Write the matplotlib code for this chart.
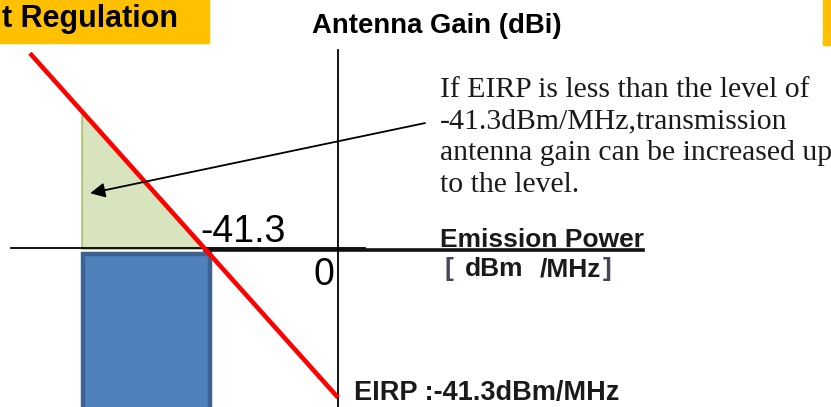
import numpy as np
import matplotlib.pyplot as plt
from matplotlib.patches import Polygon, Rectangle

# emission power in dBm/MHz (x) against antenna gain in dBi (y)
eirp_limit = -41.3
line_power = [-95.7, 0.0]          # span of the EIRP limit line
green_power = [-79.5, eirp_limit]  # zone where the gain may be raised
blue_power = [-79.3, -39.9]        # emission block under the power axis
blue_gain = [-1.5, -48.0]
arrow_tail = [27.0, 35.0]
arrow_head = [-77.0, 15.5]

note_lines = [
    "If EIRP is less than the level of",
    "-41.3dBm/MHz,transmission",
    "antenna gain can be increased up",
    "to the level.",
]

sans = "Liberation Sans"
serif = "Liberation Serif"

fig = plt.figure(figsize=(8.31, 4.07), dpi=100)
ax = fig.add_axes([0, 0, 1, 1])
ax.set_xlim(-105.0, 153.1)
ax.set_ylim(-43.9, 69.2)
ax.axis("off")

# header boxes (axes fills the whole figure)
ax.add_patch(Rectangle((0, 1 - 43 / 407), 209 / 831, 43 / 407,
                       transform=ax.transAxes, color="#ffc000", zorder=0))
ax.add_patch(Rectangle((823 / 831, 1 - 45 / 407), 8 / 831, 45 / 407,
                       transform=ax.transAxes, color="#ffc000", zorder=0))
ax.text(-49.7, 61.7, "t Regulation", ha="right", va="baseline",
        fontsize=22, fontweight="bold", family=sans, zorder=1)
ax.text(-8.1, 60.0, "Antenna Gain (dBi)", ha="left", va="baseline",
        fontsize=19.8, fontweight="bold", family=sans)

# green triangle under the limit line
g_left = eirp_limit - green_power[0]
tri = Polygon([(green_power[0], 0), (green_power[0], g_left), (green_power[1], 0)],
              closed=True, facecolor="#d7e4bd", edgecolor="#98b954", lw=1, zorder=2)
ax.add_patch(tri)

# blue block
rect = Rectangle((blue_power[0], blue_gain[1]), blue_power[1] - blue_power[0],
                 blue_gain[0] - blue_gain[1], facecolor="#4f81bd",
                 edgecolor="#3d6190", lw=3.2, zorder=2)
ax.add_patch(rect)

# axes
ax.plot([-101.6, 8.4], [0.3, 0.3], color="black", lw=1.3, zorder=3)
ax.plot([eirp_limit, 94.7], [-0.4, -0.4], color="#111111", lw=2.6, zorder=3)
ax.plot([0, 0], [55.3, -45], color="black", lw=1.3, zorder=3)

# EIRP limit line: power + gain = -41.3
p = np.array(line_power)
ax.plot(p, eirp_limit - p, color="#ff0000", lw=3.3, solid_capstyle="butt", zorder=4)

# arrow from the note into the green zone
ax.annotate("", xy=arrow_head, xytext=arrow_tail,
            arrowprops=dict(arrowstyle="-|>", color="black", lw=1.3,
                            mutation_scale=22, shrinkA=0, shrinkB=0),
            zorder=5)

# labels
ax.text(eirp_limit - 1.6, 1.9, "-41.3", ha="left", va="baseline",
        fontsize=27, family=sans, zorder=6)
ax.text(-1.2, -10.0, "0", ha="right", va="baseline", fontsize=27, family=sans)
ax.text(31.7, 0.55, "Emission Power", ha="left", va="baseline",
        fontsize=19, fontweight="bold", family=sans, color="#1a1a1a")

unit_kw = dict(va="baseline", fontsize=19, fontweight="bold", family=sans)
ax.text(33.2, -7.5, "[", ha="left", color="#4a4458", **unit_kw)
ax.text(39.3, -7.5, "dBm", ha="left", color="#1a1a1a", **unit_kw)
ax.text(62.5, -7.5, "/MHz", ha="left", color="#1a1a1a", **unit_kw)
ax.text(82.2, -7.5, "]", ha="left", color="#4a4458", **unit_kw)

ax.text(5.0, -41.9, "EIRP :-41.3dBm/MHz", ha="left", va="baseline",
        fontsize=19.5, fontweight="bold", family=sans, color="#1a1a1a")

note_y = [42.2, 33.6, 24.7, 15.8]
for line, y in zip(note_lines, note_y):
    ax.text(31.7, y, line, ha="left", va="baseline", fontsize=21.4, family=serif,
            color="#1a1a1a")

fig.savefig("out.png", dpi=100)
